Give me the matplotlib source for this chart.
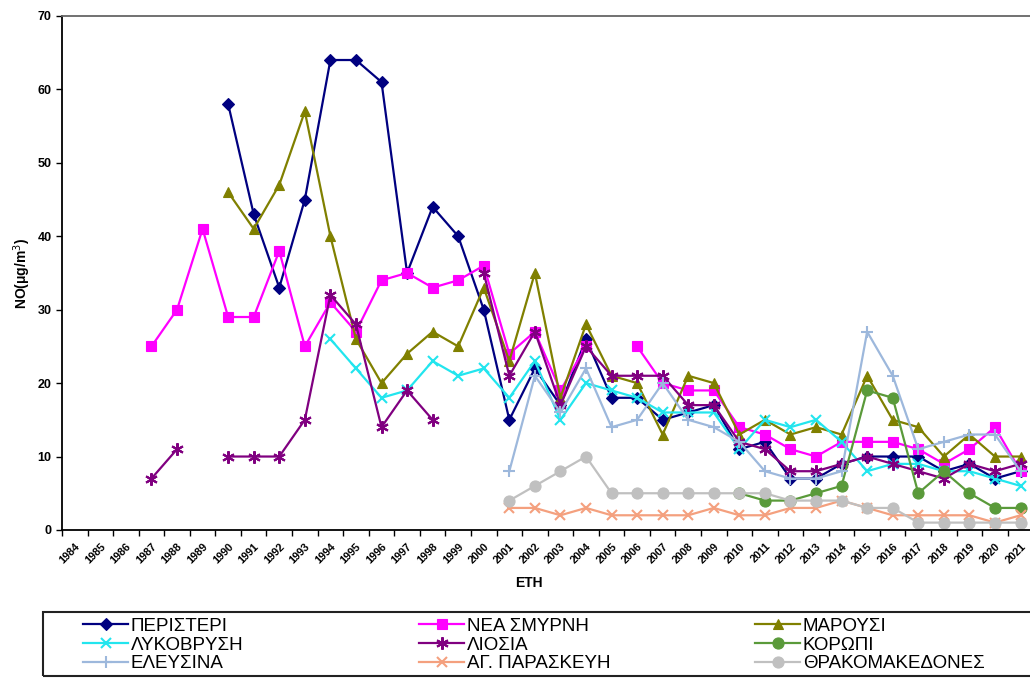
import numpy as np
from matplotlib import pyplot as plt
from matplotlib.patches import Rectangle

N = np.nan
years = list(range(1984, 2022))

peristeri = [N] * 6 + [58, 43, 33, 45, 64, 64, 61, 35, 44, 40, 30, 15, 22, 17, 26, 18, 18, 15, 16, 17,
                       11, 12, 7, 7, 9, 10, 10, 10, 8, 9, 7, 8]
nea_smyrni = [N] * 3 + [25, 30, 41, 29, 29, 38, 25, 31, 27, 34, 35, 33, 34, 36, 24, 27, 19, 25, N, 25,
                        20, 19, 19, 14, 13, 11, 10, 12, 12, 12, 11, 9, 11, 14, 8]
marousi = [N] * 6 + [46, 41, 47, 57, 40, 26, 20, 24, 27, 25, 33, 23, 35, 18, 28, 21, 20, 13, 21, 20,
                     13, 15, 13, 14, 13, 21, 15, 14, 10, 13, 10, 10]
lykovrysi = [N] * 10 + [26, 22, 18, 19, 23, 21, 22, 18, 23, 15, 20, 19, 18, 16, 16, 16, 11, 15, 14, 15,
                        12, 8, 9, 9, 8, 8, 7, 6]
liosia = [N] * 3 + [7, 11, N, 10, 10, 10, 15, 32, 28, 14, 19, 15, N, 35, 21, 27, 17, 25, 21, 21, 21,
                    17, 17, 12, 11, 8, 8, 9, 10, 9, 8, 7, 9, 8, 9]
koropi = [N] * 26 + [5, 4, 4, 5, 6, 19, 18, 5, 8, 5, 3, 3]
eleusina = [N] * 17 + [8, 21, 16, 22, 14, 15, 20, 15, 14, 12, 8, 7, 7, 8, 27, 21, 11, 12, 13, 13, 8]
ag_paraskevi = [N] * 17 + [3, 3, 2, 3, 2, 2, 2, 2, 3, 2, 2, 3, 3, 4, 3, 2, 2, 2, 2, 1, 2]
thrakomakedones = [N] * 17 + [4, 6, 8, 10, 5, 5, 5, 5, 5, 5, 5, 4, 4, 4, 3, 3, 1, 1, 1, 1, 1]

names = ['ΠΕΡΙΣΤΕΡΙ', 'ΝΕΑ ΣΜΥΡΝΗ', 'ΜΑΡΟΥΣΙ', 'ΛΥΚΟΒΡΥΣΗ', 'ΛΙΟΣΙΑ', 'ΚΟΡΩΠΙ',
         'ΕΛΕΥΣΙΝΑ', 'ΑΓ. ΠΑΡΑΣΚΕΥΗ', 'ΘΡΑΚΟΜΑΚΕΔΟΝΕΣ']
series = [peristeri, nea_smyrni, marousi, lykovrysi, liosia, koropi,
          eleusina, ag_paraskevi, thrakomakedones]

# style per station: colour, marker, marker size
styles = [
    ('#000080', 'D', 6),
    ('#ff00ff', 's', 7),
    ('#808000', '^', 7),
    ('#22e5ee', 'x', 7),
    ('#800080', (6, 2, 0), 9),
    ('#5a9a3a', 'o', 8),
    ('#9db8dc', '+', 9),
    ('#f4a07e', 'x', 7),
    ('#c0c0c0', 'o', 8),
]

plt.rcParams['font.family'] = ['Liberation Sans', 'DejaVu Sans']

fig = plt.figure(figsize=(10.30, 6.79), dpi=100)
ax = fig.add_axes([0.0602, 0.2195, 0.9430, 0.7570])

lines = []
for vals, (col, mk, ms) in zip(series, styles):
    ln, = ax.plot(years, vals, color=col, marker=mk, markersize=ms, linewidth=1.6,
                  markeredgewidth=1.5 if mk in ('x', '+') or isinstance(mk, tuple) else 0.8,
                  markeredgecolor=col)
    lines.append(ln)

ax.set_xlim(1983.5, 2021.5)
ax.set_ylim(0, 70)
ax.set_yticks(range(0, 71, 10))
ax.set_xticks(years)
ax.set_xticklabels([str(y) for y in years], rotation=45, ha='right', rotation_mode='anchor',
                   fontsize=7.8, fontweight='bold')
ax.set_xticks(np.arange(1983.5, 2022, 1), minor=True)
ax.tick_params(axis='x', which='major', length=0, pad=8)
ax.tick_params(axis='x', which='minor', length=4, width=1, direction='out')
ax.tick_params(axis='y', length=4, width=1, labelsize=9)
for lab in ax.get_yticklabels():
    lab.set_fontweight('bold')
for s in ['left', 'bottom', 'top']:
    ax.spines[s].set_linewidth(1.3)
ax.spines['top'].set_color('#666666')
ax.spines['right'].set_visible(False)

ax.set_ylabel('NO(μg/m$^3$)', fontsize=10, fontweight='bold', labelpad=3)
fig.text(0.513, 0.141, 'ΕΤΗ', ha='center', va='center', fontsize=10, fontweight='bold')

# legend: three columns placed like the original, inside one frame
col_x = [83, 419, 755]
for c in range(3):
    idx = [c, c + 3, c + 6]
    lg = fig.legend([lines[i] for i in idx], [names[i] for i in idx],
                    loc='center left', bbox_to_anchor=(col_x[c] / 1030, 1 - 645 / 679),
                    frameon=False, fontsize=13.5, handlelength=2.4, handletextpad=0.15,
                    borderpad=0, borderaxespad=0, labelspacing=0.08)
fig.add_artist(Rectangle((43 / 1030, 1 - 676 / 679), 1.0, 64 / 679, transform=fig.transFigure,
                         fill=False, edgecolor='#222222', linewidth=1.5))

fig.savefig('out.png', dpi=100)
